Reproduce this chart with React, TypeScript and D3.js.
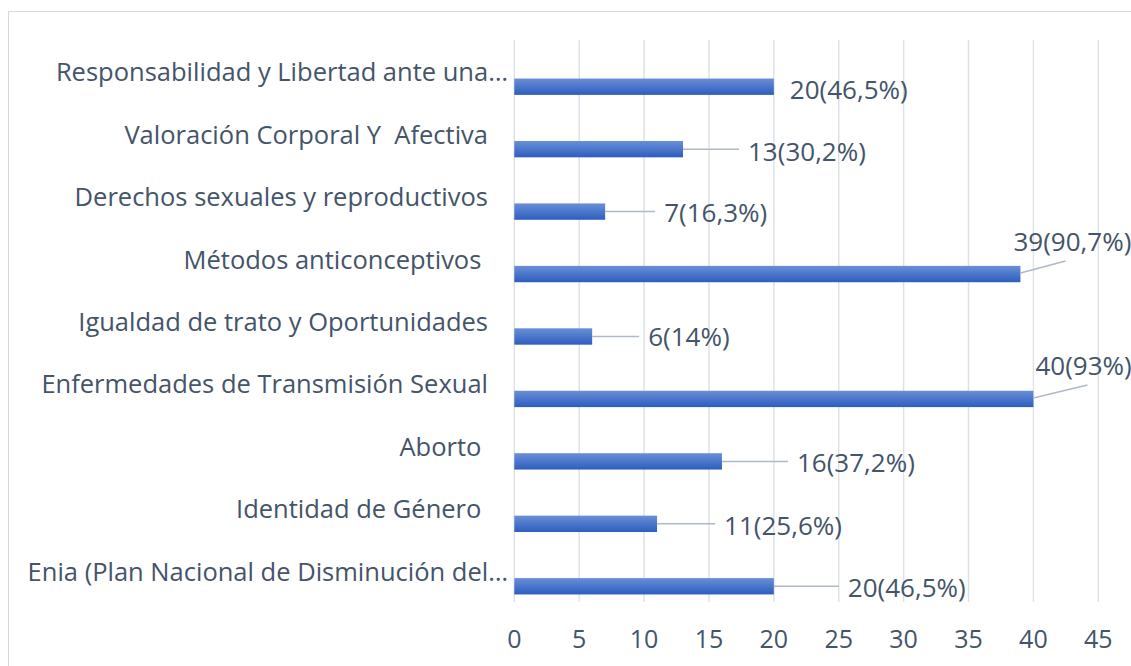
import React, { useEffect, useRef } from 'react';
import * as d3 from 'd3';

// categories top -> bottom
const categories = [
  'Responsabilidad y Libertad ante una…',
  'Valoración Corporal Y  Afectiva',
  'Derechos sexuales y reproductivos',
  'Métodos anticonceptivos ',
  'Igualdad de trato y Oportunidades',
  'Enfermedades de Transmisión Sexual',
  'Aborto ',
  'Identidad de Género ',
  'Enia (Plan Nacional de Disminución del…',
];
const counts = [20, 13, 7, 39, 6, 40, 16, 11, 20];
const percents = ['46,5%', '30,2%', '16,3%', '90,7%', '14%', '93%', '37,2%', '25,6%', '46,5%'];
const xTicks = [0, 5, 10, 15, 20, 25, 30, 35, 40, 45];

// where each data label was dragged to (px from bar end / bar centre)
const labelNudge = [
  { dx: 16, dy: 2, leader: 'none' },
  { dx: 65, dy: 2, leader: 'side' },
  { dx: 59, dy: 0, leader: 'side' },
  { dx: -7, dy: -33, leader: 'below' },
  { dx: 56, dy: 0, leader: 'side' },
  { dx: 2, dy: -34, leader: 'below' },
  { dx: 75, dy: 1, leader: 'side' },
  { dx: 67, dy: 1, leader: 'side' },
  { dx: 74, dy: 1, leader: 'side' },
];

const FONT = "'Open Sans', sans-serif";
const TEXT = '#44546A';

export default function App() {
  const ref = useRef<SVGSVGElement>(null);

  useEffect(() => {
    const svg = d3.select(ref.current);
    svg.selectAll('*').remove();

    const x = d3.scaleLinear().domain([0, 45]).range([514.3, 1098.3]);
    const y = d3.scaleBand().domain(categories).range([40, 602]);
    const bw = y.bandwidth();
    const barTop = (c: string) => (y(c) as number) + bw * 0.617;
    const barH = bw * 0.262;

    const defs = svg.append('defs');
    const grad = defs.append('linearGradient')
      .attr('id', 'barGrad')
      .attr('x1', 0).attr('y1', 0).attr('x2', 0).attr('y2', 1);
    grad.append('stop').attr('offset', '0%').attr('stop-color', '#6a8fd8');
    grad.append('stop').attr('offset', '100%').attr('stop-color', '#2d5dbe');

    // chart border
    svg.append('rect')
      .attr('x', 8.5).attr('y', 11.5)
      .attr('width', 1140).attr('height', 680)
      .attr('fill', 'white')
      .attr('stroke', '#d9d9d9');

    // gridlines
    svg.append('g').selectAll('line')
      .data(xTicks)
      .join('line')
      .attr('x1', d => x(d)).attr('x2', d => x(d))
      .attr('y1', 40).attr('y2', 602)
      .attr('stroke', '#dde2e9')
      .attr('stroke-width', 1.5);

    // tick labels
    svg.append('g').selectAll('text')
      .data(xTicks)
      .join('text')
      .attr('x', d => x(d))
      .attr('y', 638)
      .attr('text-anchor', 'middle')
      .attr('dominant-baseline', 'central')
      .style('font-family', FONT)
      .style('font-size', '25px')
      .style('fill', TEXT)
      .text(d => d);

    // category labels
    svg.append('g').selectAll('text')
      .data(categories)
      .join('text')
      .attr('x', d => d.endsWith('…') ? 508 : 488)
      .attr('y', d => (y(d) as number) + bw / 2)
      .attr('text-anchor', 'end')
      .attr('dominant-baseline', 'central')
      .style('font-family', FONT)
      .style('font-size', '25.5px')
      .style('fill', TEXT)
      .style('white-space', 'pre')
      .text(d => d);

    // bars
    svg.append('g').selectAll('rect')
      .data(categories)
      .join('rect')
      .attr('x', x(0))
      .attr('y', d => barTop(d))
      .attr('width', (d, i) => x(counts[i]) - x(0))
      .attr('height', barH)
      .attr('fill', 'url(#barGrad)');

    // leader lines + data labels
    const lab = svg.append('g');
    categories.forEach((c, i) => {
      const ex = x(counts[i]);
      const cy = barTop(c) + barH / 2;
      const n = labelNudge[i];
      const lx = ex + n.dx;
      const ly = cy + n.dy;
      if (n.leader === 'side') {
        lab.append('line')
          .attr('x1', ex).attr('y1', cy)
          .attr('x2', lx - 9).attr('y2', cy)
          .attr('stroke', '#adb9ca').attr('stroke-width', 1.5);
      } else if (n.leader === 'below') {
        lab.append('line')
          .attr('x1', ex).attr('y1', cy - 1)
          .attr('x2', lx + 52).attr('y2', ly + 20)
          .attr('stroke', '#adb9ca').attr('stroke-width', 1.5);
      }
      lab.append('text')
        .attr('x', lx)
        .attr('y', ly)
        .attr('dominant-baseline', 'central')
        .style('font-family', FONT)
        .style('font-size', '26px')
        .style('fill', TEXT)
        .text(`${counts[i]}(${percents[i]})`);
    });
  }, []);

  return (
    <svg
      ref={ref}
      width={1131}
      height={666}
      style={{ position: 'absolute', left: 0, top: 0, background: 'white' }}
    />
  );
}
